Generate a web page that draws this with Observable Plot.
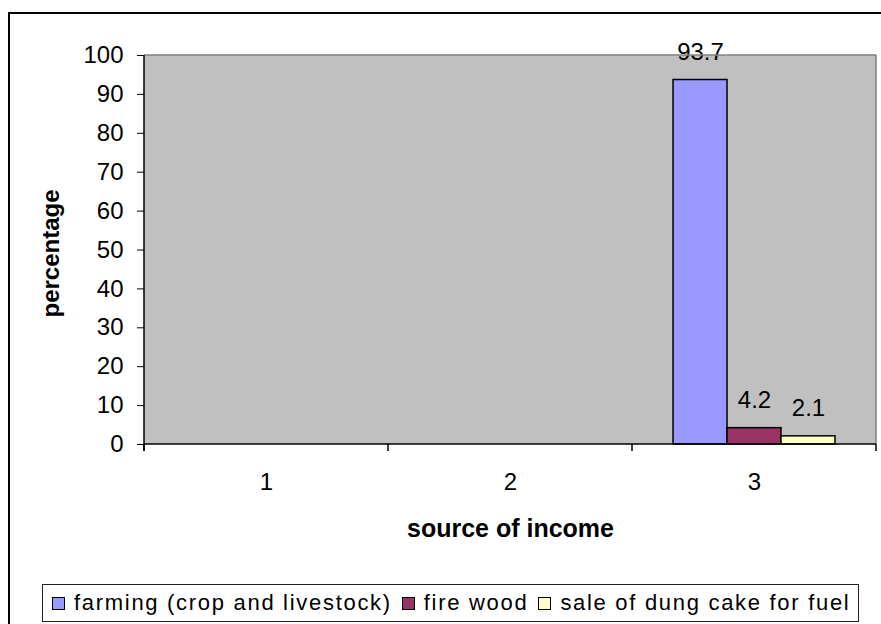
<!DOCTYPE html>
<html><head><meta charset="utf-8">
<script src="https://cdn.jsdelivr.net/npm/d3@7"></script>
<script src="https://cdn.jsdelivr.net/npm/@observablehq/plot@0.6"></script>
<style>
html,body{margin:0;padding:0;background:#fff;overflow:hidden;}
#page{position:relative;width:881px;height:624px;overflow:hidden;font-family:'Liberation Sans',Arial,sans-serif;}
#chart{position:absolute;left:0;top:0;}
#border{position:absolute;left:8px;top:12px;width:900px;height:700px;border:2px solid #000;pointer-events:none;}
#legend{position:absolute;left:42px;top:584px;width:817px;height:38px;box-sizing:border-box;border:1px solid #222;display:flex;align-items:center;padding-left:9px;font-size:22px;letter-spacing:1.7px;color:#000;}
.item{display:flex;align-items:center;margin-right:10px;white-space:nowrap;}
.sw{width:11px;height:11px;border:1.5px solid #000;margin-right:9px;}
</style>
</head><body>
<div id="page">
  <div id="chart"></div>
  <div id="border"></div>
  <div id="legend"></div>
</div>
<script>
const categories = ["1", "2", "3"];
const series = ["farming (crop and livestock)", "fire wood", "sale of dung cake for fuel"];
const seriesColors = ["#9999FF", "#993366", "#FFFFCC"];
const valueCategory = ["3", "3", "3"];
const values = [93.7, 4.2, 2.1];
const yTicks = [0, 10, 20, 30, 40, 50, 60, 70, 80, 90, 100];
const yTitle = "percentage";
const xTitle = "source of income";

const data = values.map((v, i) => ({category: valueCategory[i], series: series[i], value: v}));

const plot = Plot.plot({
  width: 881,
  height: 560,
  marginLeft: 144,
  marginRight: 5,
  marginTop: 55,
  marginBottom: 116,
  style: {fontFamily: "'Liberation Sans', Arial, sans-serif", fontSize: "24px", background: "transparent", color: "#000", overflow: "visible"},
  fx: {domain: categories, padding: 0, axis: null, label: null},
  x: {domain: series, axis: null, paddingInner: 0, paddingOuter: 0.76, round: false},
  y: {domain: [0, 100], ticks: yTicks, tickSize: 7, tickPadding: 14, label: null},
  color: {domain: series, range: seriesColors},
  marks: [
    Plot.rect(categories, {fx: d => d, y1: 0, y2: 100, fill: "#C0C0C0"}),
    Plot.barY(data, {fx: "category", x: "series", y: "value", fill: "series", stroke: "#000", strokeWidth: 1.5}),
    Plot.text(data, {fx: "category", x: "series", y: "value", text: d => d.value.toFixed(1), dy: -28, lineAnchor: "middle", fontSize: 24}),
    Plot.text(categories, {fx: d => d, text: d => d, frameAnchor: "bottom", dy: 37.5, lineAnchor: "middle", fontSize: 24}),
    Plot.text([xTitle], {fx: () => categories[1], text: d => d, frameAnchor: "bottom", dy: 84, lineAnchor: "middle", fontSize: 25, fontWeight: "bold"}),
    Plot.text([yTitle], {fx: () => categories[0], text: d => d, frameAnchor: "left", textAnchor: "middle", rotate: -90, dx: -93, dy: 3.5, lineAnchor: "middle", fontSize: 24, fontWeight: "bold"})
  ]
});

// plot-area edges and category boundary ticks, positioned through Plot's own scales
const fxS = plot.scale("fx"), yS = plot.scale("y");
const yPos = v => (yS.apply ? yS.apply(v) : d3.scaleLinear(yS.domain, yS.range)(v));
const step = fxS.step ?? fxS.bandwidth;
const x0 = fxS.range[0];
const bounds = d3.range(categories.length + 1).map(i => x0 + i * step);
const xL = bounds[0], xR = bounds[bounds.length - 1];
const yB = yPos(0), yT = yPos(100);
const g = d3.select(plot).append("g").attr("fill", "none");
g.append("line").attr("x1", xL).attr("x2", xR).attr("y1", yT).attr("y2", yT).attr("stroke", "#808080").attr("stroke-width", 1.5);
g.append("line").attr("x1", xR).attr("x2", xR).attr("y1", yT).attr("y2", yB).attr("stroke", "#808080").attr("stroke-width", 1.5);
g.append("line").attr("x1", xL).attr("x2", xL).attr("y1", yT).attr("y2", yB + 7).attr("stroke", "#000").attr("stroke-width", 1.5);
g.append("line").attr("x1", xL).attr("x2", xR).attr("y1", yB).attr("y2", yB).attr("stroke", "#000").attr("stroke-width", 1.5);
g.selectAll(".bt").data(bounds).join("line").attr("x1", d => d).attr("x2", d => d).attr("y1", yB).attr("y2", yB + 7).attr("stroke", "#000").attr("stroke-width", 1.5);

document.getElementById("chart").appendChild(plot);

const legend = d3.select("#legend");
series.forEach((s, i) => {
  const it = legend.append("div").attr("class", "item");
  it.append("div").attr("class", "sw").style("background", seriesColors[i]);
  it.append("span").text(s);
});
</script>
</body></html>
